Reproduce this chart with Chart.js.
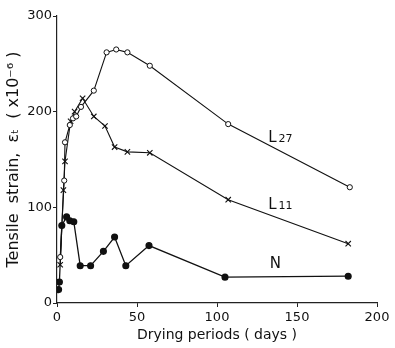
<!DOCTYPE html>
<html>
<head>
<meta charset="utf-8">
<script src="https://cdn.jsdelivr.net/npm/chart.js@4"></script>
<style>
  html, body { margin: 0; padding: 0; background: #fff; }
  #wrap { width: 395px; height: 348px; }
</style>
</head>
<body>
<div id="wrap"><canvas id="myChart" width="395" height="348"></canvas></div>
<script>
// drying period (days) and tensile strain (x10-6) for each specimen
const l27Days = [2, 4.5, 5, 8, 10, 12, 15, 23, 31, 37, 44, 58, 107, 183]
const l27Strain = [48, 128, 168, 186, 193, 195, 205, 222, 262, 265, 262, 248, 187, 121]

const l11Days = [2, 4, 5, 8.5, 11, 16, 23, 30, 36, 44, 58, 107, 182]
const l11Strain = [40, 118, 148, 190, 200, 214, 195, 185, 163, 158, 157, 108, 62]

const nDays = [1, 1.5, 3, 6, 8, 10.5, 14.5, 21, 29, 36, 43, 57.5, 105, 182]
const nStrain = [14, 22, 81, 90, 86, 85, 39, 39, 54, 69, 39, 60, 27, 28]

// axis ticks
const xTicks = [0, 50, 100, 150, 200]
const yTicks = [0, 100, 200, 300]

// curve labels, placed in data units
const curveLabels = [
    {text: 'L', sub: '27', x: 132, y: 168},
    {text: 'L', sub: '11', x: 132, y: 98},
    {text: 'N', sub: '', x: 133, y: 37}
]

function toPoints(xs, ys) {
    return xs.map((x, i) => ({x: x, y: ys[i]}))
}

const font = "'DejaVu Sans', sans-serif"

// writes the L27 / L11 / N names next to the lines
const labelPlugin = {
    id: 'curveLabels',
    afterDatasetsDraw(chart) {
        const c = chart.ctx
        const xs = chart.scales.x
        const ys = chart.scales.y
        c.save()
        c.fillStyle = '#111'
        c.textBaseline = 'alphabetic'
        curveLabels.forEach(l => {
            const px = xs.getPixelForValue(l.x)
            const py = ys.getPixelForValue(l.y)
            c.font = '15px ' + font
            c.fillText(l.text, px, py)
            if (l.sub) {
                const w = c.measureText(l.text).width
                c.font = '11px ' + font
                c.fillText(l.sub, px + w + 2, py)
            }
        })
        c.restore()
    }
}

new Chart(document.getElementById('myChart'), {
    type: 'scatter',
    data: {
        datasets: [{
            label: 'L27',
            data: toPoints(l27Days, l27Strain),
            showLine: true,
            borderColor: '#111',
            borderWidth: 1.1,
            pointStyle: 'circle',
            pointRadius: 2.6,
            pointBackgroundColor: '#fff',
            pointBorderColor: '#111',
            pointBorderWidth: 1
        }, {
            label: 'L11',
            data: toPoints(l11Days, l11Strain),
            showLine: true,
            borderColor: '#111',
            borderWidth: 1.1,
            pointStyle: 'crossRot',
            pointRadius: 3.8,
            pointBorderColor: '#111',
            pointBorderWidth: 1.1
        }, {
            label: 'N',
            data: toPoints(nDays, nStrain),
            showLine: true,
            borderColor: '#111',
            borderWidth: 1.3,
            pointStyle: 'circle',
            pointRadius: 2.9,
            pointBackgroundColor: '#111',
            pointBorderColor: '#111'
        }]
    },
    options: {
        responsive: false,
        animation: false,
        layout: {padding: {left: 0, right: 18, top: 16, bottom: 0}},
        plugins: {
            legend: {display: false},
            tooltip: {enabled: false}
        },
        scales: {
            x: {
                type: 'linear',
                min: 0,
                max: 200,
                afterBuildTicks: s => { s.ticks = xTicks.map(v => ({value: v})) },
                afterFit: s => { s.height = 45 },
                grid: {drawOnChartArea: false, tickLength: 4, color: '#222'},
                border: {display: true, color: '#222', width: 1.2},
                ticks: {color: '#111', padding: 3, font: {family: font, size: 13}},
                title: {
                    display: true,
                    text: 'Drying periods ( days )',
                    color: '#111',
                    padding: {top: 0},
                    font: {family: font, size: 14}
                }
            },
            y: {
                type: 'linear',
                min: 0,
                max: 300,
                afterBuildTicks: s => { s.ticks = yTicks.map(v => ({value: v})) },
                afterFit: s => { s.width = 57 },
                grid: {drawOnChartArea: false, tickLength: 4, color: '#222'},
                border: {display: true, color: '#222', width: 1.2},
                ticks: {color: '#111', padding: 1, font: {family: font, size: 13}},
                title: {
                    display: true,
                    text: 'Tensile  strain,  εₜ  ( x10⁻⁶ )',
                    color: '#111',
                    padding: {bottom: 1},
                    font: {family: font, size: 16}
                }
            }
        }
    },
    plugins: [labelPlugin]
})
</script>
</body>
</html>
